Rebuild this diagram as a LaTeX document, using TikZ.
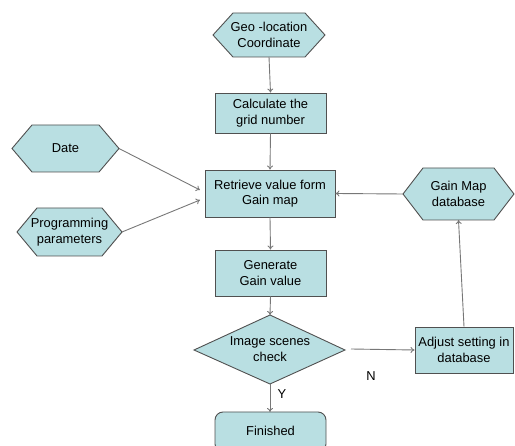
\documentclass[tikz,border=0pt]{standalone}
\usepackage{fontspec}
\setmainfont{Liberation Sans}
\usetikzlibrary{arrows.meta}
\definecolor{boxfill}{HTML}{B9DFE2}
\definecolor{boxline}{HTML}{505050}
\definecolor{conn}{HTML}{777777}
\newcommand{\hexshape}[6]{% name, cx, cy, half width, half height, slant
  \draw[shapeline] (#2-#4,#3) -- (#2-#4+#6,#3-#5) -- (#2+#4-#6,#3-#5) -- (#2+#4,#3)
    -- (#2+#4-#6,#3+#5) -- (#2-#4+#6,#3+#5) -- cycle;
  \coordinate (#1-w) at (#2-#4,#3);
  \coordinate (#1-e) at (#2+#4,#3);
  \coordinate (#1-n) at (#2,#3-#5);
  \coordinate (#1-s) at (#2,#3+#5);
}
\begin{document}
\begin{tikzpicture}[x=1pt,y=-1pt,
  shapeline/.style={draw=boxline,fill=boxfill,line width=0.9pt},
  txt/.style={align=center,font=\fontsize{12.9}{15.5}\selectfont,inner sep=0pt},
  box/.style={shapeline,txt,rectangle},
  conn/.style={draw=conn,line width=0.9pt,-{To[length=4pt,width=6pt]}}]
\useasboundingbox (0,0) rectangle (515,446);
% hexagons
\hexshape{geo}{269}{35}{56}{22}{20}
\node[txt] (geo) at (269,35) {Geo -location\\Coordinate};
\hexshape{date}{65.5}{148.5}{53.5}{23.5}{20}
\node[txt] (date) at (65.5,148.5) {Date};
\hexshape{prog}{69.5}{232}{52.5}{24}{20}
\node[txt] (prog) at (69.5,232) {Programming\\parameters};
\hexshape{gmd}{458.5}{194}{55.5}{26}{20}
\node[txt] (gmd) at (458.5,194) {Gain Map\\database};
% boxes
\node[box,minimum width=111pt,minimum height=40pt] (calc) at (270.5,113) {Calculate the\\grid number};
\node[box,minimum width=130pt,minimum height=47pt] (retr) at (270,193.5) {Retrieve value form\\Gain map};
\node[box,minimum width=111pt,minimum height=46pt] (gen) at (270.5,273) {Generate\\Gain value};
\node[box,minimum width=98pt,minimum height=46pt] (adj) at (464,350) {Adjust setting in\\database};
% diamond
\draw[shapeline] (194,350) -- (270,315) -- (345,350) -- (270,384) -- cycle;
\coordinate (dia-n) at (270,315);
\coordinate (dia-s) at (270,384);
\coordinate (dia-e) at (351,349);
\node[txt] (dia) at (270,349) {Image scenes\\check};
% finished (cut off at bottom)
\begin{scope}
\clip (0,0) rectangle (515,446);
\draw[shapeline,rounded corners=8pt] (215,452) rectangle (326,412);
\end{scope}
\coordinate (fin-n) at (270,412);
\node[txt] (fin) at (270.5,431) {Finished};
% connectors
\draw[conn] (geo-s) -- (calc.north);
\draw[conn] (calc.south) -- (retr.north);
\draw[conn] (retr.south) -- (gen.north);
\draw[conn] (gen.south) -- (dia-n);
\draw[conn] (dia-s) -- (fin-n);
\coordinate (d-end) at (200,190);
\coordinate (p-end) at (200,200);
\draw[conn] (date-e) -- (d-end);
\draw[conn] (prog-e) -- (p-end);
\draw[conn] (gmd-w) -- (retr.east);
\draw[conn] (dia-e) -- (adj.west);
\draw[conn] (adj.north) -- (gmd-s);
\node[txt] (ylab) at (282,394) {Y};
\node[txt] (nlab) at (371,376) {N};
\end{tikzpicture}
\end{document}
